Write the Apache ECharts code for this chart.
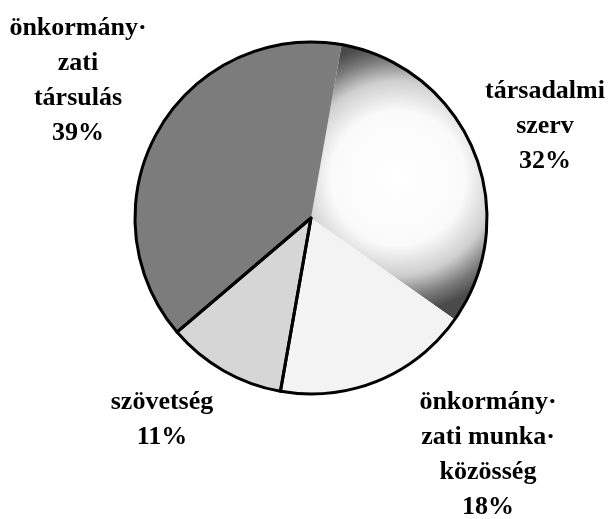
<!DOCTYPE html>
<html>
<head>
<meta charset="utf-8">
<script src="https://cdn.jsdelivr.net/npm/echarts@6/dist/echarts.min.js"></script>
<style>
  html, body { margin: 0; padding: 0; background: #fff; }
  #chart { width: 612px; height: 519px; }
</style>
</head>
<body>
<div id="chart"></div>
<script>
// szeletek sorrendje: az óramutató járásával, felülről
const labels = ['társadalmi\nszerv', 'önkormány·\nzati munka·\nközösség', 'szövetség', 'önkormány·\nzati\ntársulás'];
const values = [32, 18, 11, 39];

// címkék helye (középpont)
const labelPos = [[545, 126], [488, 455], [162, 420], [78, 81]];

const startAngle = 80;
const pieCenter = [311, 218];
const pieRadius = 176;

const sliceColors = [
  {
    type: 'radial', global: true, x: 398, y: 178, r: 135,
    colorStops: [
      { offset: 0, color: '#ffffff' },
      { offset: 0.5, color: '#fafafa' },
      { offset: 0.72, color: '#cfcfcf' },
      { offset: 0.88, color: '#7a7a7a' },
      { offset: 1, color: '#4a4a4a' }
    ]
  },
  '#f3f3f3',
  '#d6d6d6',
  '#7c7c7c'
];

const chart = echarts.init(document.getElementById('chart'));

// fekete vonalak: a szövetség szelet két oldala + a kör kerülete
const before = values[0] + values[1];
const total = values.reduce((a, b) => a + b, 0);
const lineStart = startAngle - before / total * 360;

chart.setOption({
  backgroundColor: '#fff',
  animation: false,
  series: [
    {
      type: 'pie',
      center: pieCenter,
      radius: pieRadius,
      startAngle: startAngle,
      clockwise: true,
      avoidLabelOverlap: false,
      silent: true,
      itemStyle: { borderWidth: 0 },
      label: {
        show: true,
        formatter: p => p.name + '\n' + p.value + '%',
        fontFamily: 'Liberation Serif',
        fontWeight: 'bold',
        fontSize: 26,
        lineHeight: 35,
        color: '#000',
        align: 'center'
      },
      labelLine: { show: false },
      labelLayout: p => ({
        x: labelPos[p.dataIndex][0],
        y: labelPos[p.dataIndex][1],
        align: 'center',
        verticalAlign: 'middle'
      }),
      data: values.map((v, i) => ({
        name: labels[i],
        value: v,
        itemStyle: { color: sliceColors[i] }
      }))
    },
    {
      type: 'pie',
      center: pieCenter,
      radius: pieRadius,
      startAngle: lineStart,
      clockwise: true,
      silent: true,
      label: { show: false },
      labelLine: { show: false },
      itemStyle: { color: 'transparent', borderColor: '#000', borderWidth: 3 },
      data: [values[2], total - values[2]]
    }
  ]
});
</script>
</body>
</html>
